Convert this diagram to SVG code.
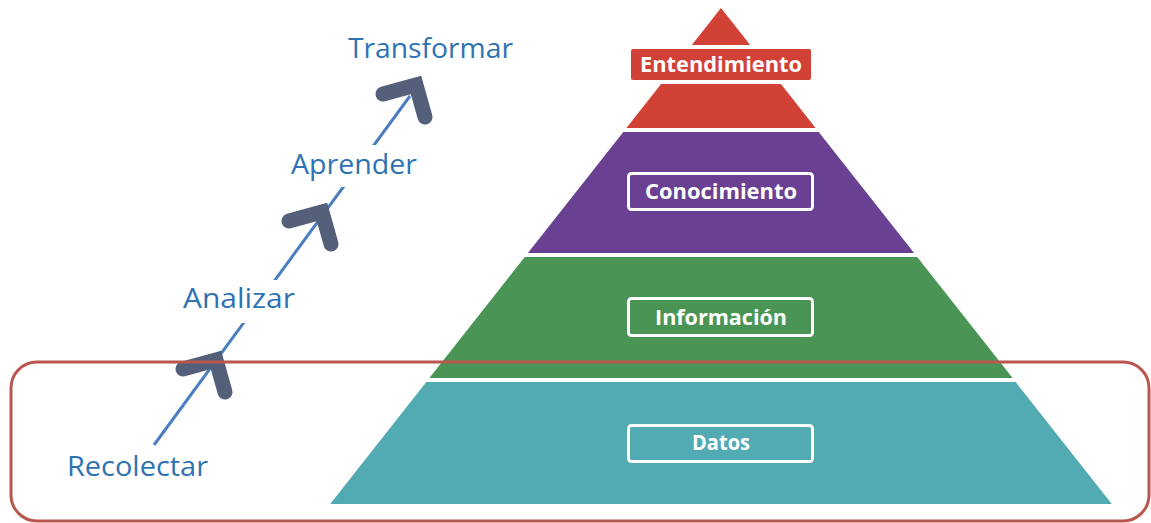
<svg xmlns="http://www.w3.org/2000/svg" width="1151" height="523" viewBox="0 0 1151 523">
<defs>
<style>
.step{font-family:"Open Sans","DejaVu Sans",sans-serif;font-size:28px;fill:#2e72b4;}
.lbl{font-family:"Open Sans","DejaVu Sans",sans-serif;font-size:21px;font-weight:700;fill:#ffffff;text-anchor:middle;}
.box{fill:none;stroke:#ffffff;stroke-width:3;}
.chev{fill:none;stroke:#546079;stroke-width:15;stroke-linecap:round;stroke-linejoin:miter;}
</style>
</defs>
<rect width="1151" height="523" fill="#ffffff"/>
<g id="pyramid">
<g id="entendimiento">
<polygon points="721,8 815.6,128 626.4,128" fill="#d24136"/>
<rect x="627" y="45" width="188" height="39" fill="#ffffff"/>
<rect x="631" y="49" width="180" height="31" rx="2" fill="#d24136"/>
<text class="lbl" x="721" y="72" textLength="162" lengthAdjust="spacingAndGlyphs">Entendimiento</text>
</g>
<g id="conocimiento">
<polygon points="623.3,132 818.7,132 914.1,253 527.9,253" fill="#6a4192"/>
<rect class="box" x="628.5" y="173.5" width="184" height="36" rx="3"/>
<text class="lbl" x="721" y="199" textLength="152" lengthAdjust="spacingAndGlyphs">Conocimiento</text>
</g>
<g id="informacion">
<polygon points="524.8,257 917.2,257 1012.6,378 429.4,378" fill="#4a9455"/>
<rect class="box" x="628.5" y="298.5" width="184" height="37" rx="3"/>
<text class="lbl" x="721" y="325" textLength="132" lengthAdjust="spacingAndGlyphs">Información</text>
</g>
<g id="datos">
<polygon points="426.3,382 1015.7,382 1111.8,504 330.2,504" fill="#52aab2"/>
<rect class="box" x="628.5" y="425.5" width="184" height="36" rx="3"/>
<text class="lbl" x="721" y="450" textLength="58" lengthAdjust="spacingAndGlyphs">Datos</text>
</g>
</g>
<g id="connectors">
<line x1="154" y1="445" x2="410" y2="96" stroke="#4a7ebf" stroke-width="3"/>
<path class="chev" d="M183,369 L216,360 L225,392"/>
<path class="chev" d="M289,221 L322,212 L331,244"/>
<path class="chev" d="M383,94 L416,85 L425,117"/>
</g>
<g id="steps">
<g id="transformar"><text class="step" x="348" y="58" textLength="165" lengthAdjust="spacingAndGlyphs">Transformar</text></g>
<g id="aprender"><rect x="287" y="145" width="134" height="42" fill="#ffffff"/><text class="step" x="291" y="174" textLength="126" lengthAdjust="spacingAndGlyphs">Aprender</text></g>
<g id="analizar"><rect x="179" y="280" width="120" height="43" fill="#ffffff"/><text class="step" x="183" y="308" textLength="112" lengthAdjust="spacingAndGlyphs">Analizar</text></g>
<g id="recolectar"><text class="step" x="67" y="476" textLength="141" lengthAdjust="spacingAndGlyphs">Recolectar</text></g>
</g>
<g id="highlight">
<rect x="11" y="362" width="1138" height="159" rx="26" fill="none" stroke="#b9574f" stroke-width="3"/>
</g>
</svg>
